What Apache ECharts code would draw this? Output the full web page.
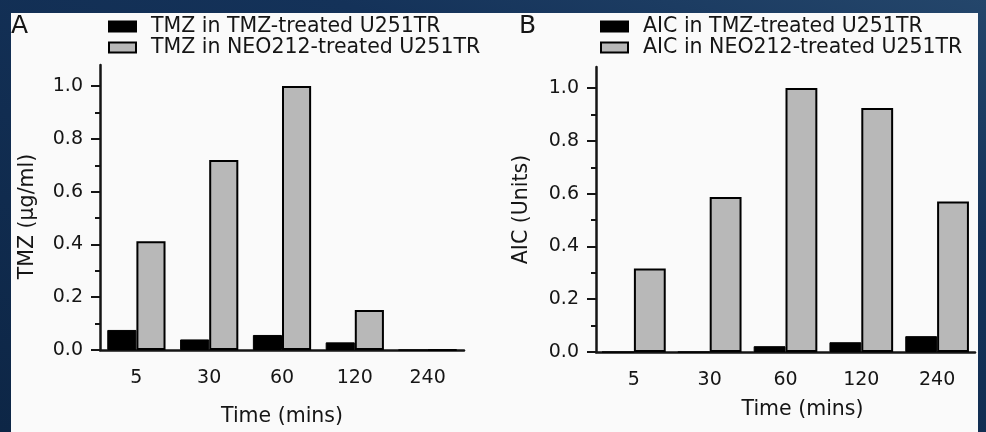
<!DOCTYPE html>
<html>
<head>
<meta charset="utf-8">
<script src="https://cdn.jsdelivr.net/npm/echarts@6/dist/echarts.min.js"></script>
<style>
html, body { margin: 0; padding: 0; }
body {
	width: 986px; height: 432px; overflow: hidden;
	background: linear-gradient(200deg, #24466b 0%, #143259 30%, #0d2646 100%);
}
#chart { width: 986px; height: 432px; }
</style>
</head>
<body>
<div id="chart"></div>
<script>
// time points (mins)
var timePoints = ['5', '30', '60', '120', '240'];
// panel A - TMZ (ug/ml)
var tmzInTmz = [0.076, 0.040, 0.057, 0.029, 0];
var tmzInNeo = [0.412, 0.720, 1.000, 0.152, 0];
// panel B - AIC (units)
var aicInTmz = [0, 0, 0.022, 0.037, 0.060];
var aicInNeo = [0.316, 0.587, 1.000, 0.925, 0.570];
// y ticks
var yTicks = [0, 0.2, 0.4, 0.6, 0.8, 1.0];
var yMinorTicks = [0.1, 0.3, 0.5, 0.7, 0.9];

var FONT = 'DejaVu Sans';
var INK = '#151515';
var GREY = '#b8b8b8';

var chart = echarts.init(document.getElementById('chart'));

function xAxes(g, nameGap, namePad) {
	return [{
		gridIndex: g, type: 'category', position: 'bottom', data: timePoints,
		axisLine: {lineStyle: {color: INK, width: 2.5}},
		axisTick: {alignWithLabel: true, length: 8, lineStyle: {color: INK, width: 2}},
		axisLabel: {color: INK, fontFamily: FONT, fontSize: 19, margin: 19},
		name: 'Time (mins)', nameLocation: 'middle', nameGap: nameGap,
		nameTextStyle: {color: INK, fontFamily: FONT, fontSize: 20.5, padding: namePad}
	}, {
		// boundary ticks between time points
		gridIndex: g, type: 'category', position: 'bottom', data: timePoints,
		axisLine: {show: false},
		axisTick: {alignWithLabel: false, length: 5, lineStyle: {color: INK, width: 2}},
		axisLabel: {show: false}
	}];
}

function yAxes(g, name, nameGap, namePad) {
	return [{
		gridIndex: g, type: 'value', position: 'left', min: 0, max: 1.08,
		axisLine: {show: true, lineStyle: {color: INK, width: 2.5}},
		axisTick: {show: true, customValues: yTicks, length: 9, lineStyle: {color: INK, width: 2}},
		axisLabel: {customValues: yTicks, color: INK, fontFamily: FONT, fontSize: 19, margin: 17,
			formatter: function(v) { return v.toFixed(1); }},
		splitLine: {show: false},
		name: name, nameLocation: 'middle', nameRotate: 90, nameGap: nameGap,
		nameTextStyle: {color: INK, fontFamily: FONT, fontSize: 20.5, padding: namePad}
	}, {
		gridIndex: g, type: 'value', position: 'left', min: 0, max: 1.08,
		axisLine: {show: false},
		axisTick: {show: true, customValues: yMinorTicks, length: 5, lineStyle: {color: INK, width: 2}},
		axisLabel: {show: false},
		splitLine: {show: false}
	}];
}

function bars(name, data, xi, yi, color, bw, border) {
	return {
		type: 'bar', name: name, data: data, xAxisIndex: xi, yAxisIndex: yi,
		barWidth: bw, barGap: '0%',
		itemStyle: {color: color, borderColor: '#000', borderWidth: border},
		emphasis: {disabled: true}
	};
}

function legend(left, names) {
	return {
		data: names, orient: 'vertical', left: left, top: 16, padding: 0,
		icon: 'rect', itemWidth: 27, itemHeight: 10, itemGap: 0, selectedMode: false,
		textStyle: {color: INK, fontFamily: FONT, fontSize: 20.5, lineHeight: 15, padding: [0, 0, 0, 10]}
	};
}

var option = {
	animation: false,
	backgroundColor: 'transparent',
	graphic: [{
		type: 'rect', z: -10, silent: true,
		shape: {x: 11, y: 13, width: 967, height: 430},
		style: {fill: '#fafafa'}
	}],
	title: [
		{text: 'A', left: 11, top: 14, padding: 0, textStyle: {fontFamily: FONT, fontSize: 25, fontWeight: 'normal', color: INK}},
		{text: 'B', left: 519, top: 14, padding: 0, textStyle: {fontFamily: FONT, fontSize: 25, fontWeight: 'normal', color: INK}}
	],
	legend: [
		legend(108, ['TMZ in TMZ-treated U251TR', 'TMZ in NEO212-treated U251TR']),
		legend(600, ['AIC in TMZ-treated U251TR', 'AIC in NEO212-treated U251TR'])
	],
	grid: [
		{left: 100, width: 364, top: 65, bottom: 81},
		{left: 596, width: 379, top: 67, bottom: 80}
	],
	xAxis: xAxes(0, 56, [0, 0, 0, 0]).concat(xAxes(1, 47, [0, 0, 0, 34])),
	yAxis: yAxes(0, 'TMZ (µg/ml)', 62, [0, 18, 0, 0]).concat(yAxes(1, 'AIC (Units)', 64, [0, 0, 0, 0])),
	series: [
		bars('TMZ in TMZ-treated U251TR', tmzInTmz, 0, 0, '#000', '40%', 1),
		bars('TMZ in NEO212-treated U251TR', tmzInNeo, 0, 0, GREY, '40%', 2),
		bars('AIC in TMZ-treated U251TR', aicInTmz, 2, 2, '#000', '42%', 1),
		bars('AIC in NEO212-treated U251TR', aicInNeo, 2, 2, GREY, '42%', 2)
	]
};

chart.setOption(option);
</script>
</body>
</html>
